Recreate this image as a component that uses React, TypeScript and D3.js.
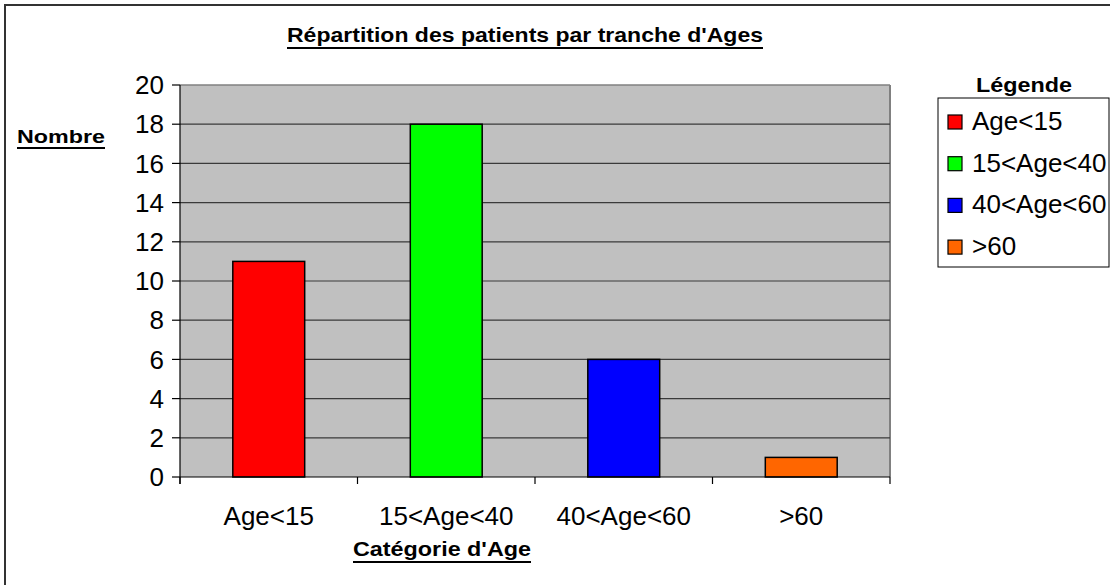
import * as d3 from "d3"
import React from "react"

// Data
const categories = ["Age<15", "15<Age<40", "40<Age<60", ">60"]
const counts = [11, 18, 6, 1]
const yTickValues = [0, 2, 4, 6, 8, 10, 12, 14, 16, 18, 20]

const titleText = "Répartition des patients par tranche d'Ages"
const yTitle = "Nombre"
const xTitle = "Catégorie d'Age"
const legendTitle = "Légende"

// Fill colours, one per category
const barColors = ["#FF0000", "#00FF00", "#0000FF", "#FF6600"]

const W = 1110
const H = 585
const FONT = "'Liberation Sans', Arial, sans-serif"

const App = () => {
    // Plot area, in pixels
    const plot = { left: 180, right: 890, top: 85, bottom: 477 }

    const x = d3.scaleBand<string>()
        .domain(categories)
        .range([plot.left, plot.right])
        .paddingInner(0.595)
        .paddingOuter(0.2975)
    // Band boundaries used for the category ticks
    const xOuter = d3.scaleBand<string>()
        .domain(categories)
        .range([plot.left, plot.right])
    const boundaries = categories.map(c => xOuter(c) as number).concat([plot.right])

    const y = d3.scaleLinear()
        .domain([0, d3.max(yTickValues) as number])
        .range([plot.bottom, plot.top])

    const legend = { left: 938, top: 98, right: 1109, bottom: 267, rowStep: 41.7, firstBase: 130 }

    return (
        <svg width={W} height={H} style={{ position: "absolute", left: 0, top: 0, background: "#fff" }}
             fontFamily={FONT}>
            {/* outer frame, cut off at the right and bottom */}
            <rect x={5} y={5} width={W + 10} height={H + 10} fill="#fff" stroke="#333" strokeWidth={2} />

            {/* title */}
            <text x={525} y={42} textAnchor="middle" fontSize={21} fontWeight="bold"
                  textLength={476} lengthAdjust="spacingAndGlyphs">{titleText}</text>
            <line x1={287} x2={763} y1={48} y2={48} stroke="#000" strokeWidth={2} />

            {/* plot background */}
            <rect x={plot.left} y={plot.top} width={plot.right - plot.left} height={plot.bottom - plot.top}
                  fill="#C0C0C0" />
            <line x1={plot.left} x2={plot.right} y1={plot.top} y2={plot.top} stroke="#808080" strokeWidth={1.5} />
            <line x1={plot.right} x2={plot.right} y1={plot.top} y2={plot.bottom} stroke="#808080" strokeWidth={2} />

            {/* gridlines */}
            {yTickValues.filter(v => v > 0 && v < 20).map(v => (
                <line key={"g" + v} x1={plot.left} x2={plot.right} y1={y(v)} y2={y(v)}
                      stroke="#3a3a3a" strokeWidth={1.2} />
            ))}

            {/* bars */}
            {categories.map((c, i) => (
                <rect key={c} x={x(c)} y={y(counts[i])} width={x.bandwidth()}
                      height={y(0) - y(counts[i])} fill={barColors[i]} stroke="#000" strokeWidth={1.5} />
            ))}

            {/* y axis */}
            <line x1={plot.left} x2={plot.left} y1={plot.top} y2={plot.bottom + 7} stroke="#000" strokeWidth={1.2} />
            {yTickValues.map(v => (
                <g key={"y" + v}>
                    <line x1={plot.left - 8} x2={plot.left} y1={y(v)} y2={y(v)} stroke="#000" strokeWidth={1.2} />
                    <text x={164} y={y(v)} dy="0.35em" textAnchor="end" fontSize={26}>{v}</text>
                </g>
            ))}

            {/* x axis */}
            <line x1={plot.left} x2={plot.right} y1={plot.bottom} y2={plot.bottom} stroke="#000" strokeWidth={1.2} />
            {boundaries.map((b, i) => (
                <line key={"xt" + i} x1={b} x2={b} y1={plot.bottom} y2={plot.bottom + 7} stroke="#000" strokeWidth={1.2} />
            ))}
            {categories.map(c => (
                <text key={"xl" + c} x={(x(c) as number) + x.bandwidth() / 2} y={525} textAnchor="middle"
                      fontSize={26}>{c}</text>
            ))}

            {/* axis titles */}
            <text x={17} y={143} fontSize={19} fontWeight="bold" textLength={88}
                  lengthAdjust="spacingAndGlyphs">{yTitle}</text>
            <line x1={17} x2={105} y1={148} y2={148} stroke="#000" strokeWidth={2} />
            <text x={353} y={556} fontSize={20} fontWeight="bold" textLength={178}
                  lengthAdjust="spacingAndGlyphs">{xTitle}</text>
            <line x1={353} x2={531} y1={562} y2={562} stroke="#000" strokeWidth={2} />

            {/* legend */}
            <text x={1024} y={92} textAnchor="middle" fontSize={21} fontWeight="bold" textLength={96}
                  lengthAdjust="spacingAndGlyphs">{legendTitle}</text>
            <rect x={legend.left} y={legend.top} width={legend.right - legend.left}
                  height={legend.bottom - legend.top} fill="#fff" stroke="#000" strokeWidth={1} />
            {categories.map((c, i) => {
                const base = legend.firstBase + i * legend.rowStep
                return (
                    <g key={"lg" + c}>
                        <rect x={948} y={base - 15} width={14} height={14} fill={barColors[i]}
                              stroke="#000" strokeWidth={1.2} />
                        <text x={972} y={base} fontSize={26}>{c}</text>
                    </g>
                )
            })}
        </svg>
    )
}

export default App
